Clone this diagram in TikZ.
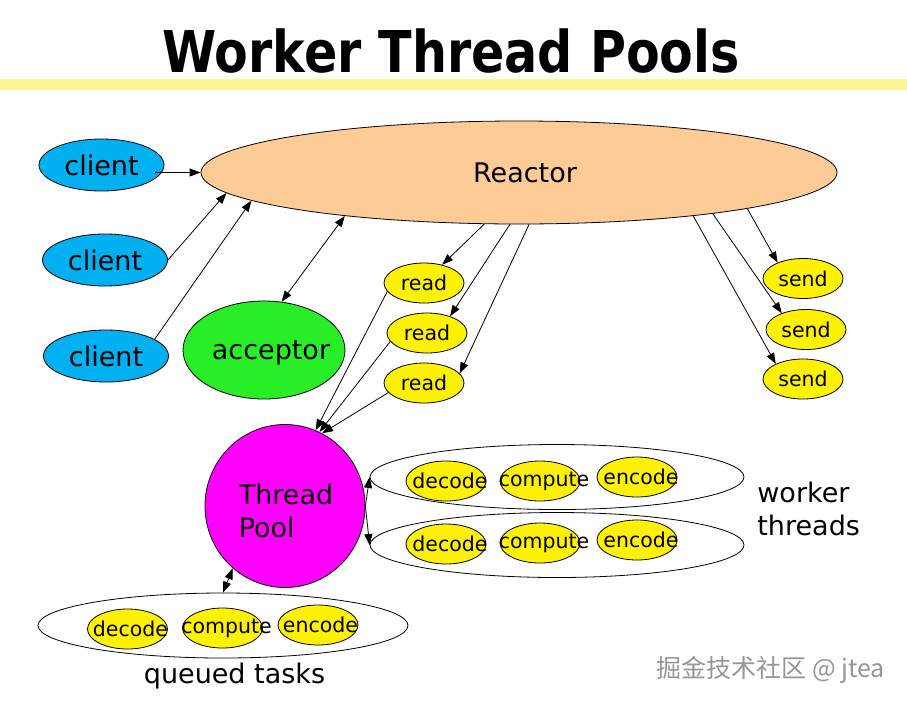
\documentclass[tikz,border=0pt]{standalone}
\usepackage{fontspec}
\setmainfont{DejaVu Sans}
\newfontfamily\cjkfont{Noto Sans CJK SC}
\usetikzlibrary{arrows.meta, shapes.geometric}
\definecolor{barfill}{RGB}{252,246,150}
\definecolor{reactorfill}{RGB}{252,203,150}
\definecolor{clientfill}{RGB}{0,176,240}
\definecolor{accfill}{RGB}{40,238,40}
\definecolor{poolfill}{RGB}{255,0,255}
\definecolor{markgray}{RGB}{150,150,150}
\newcommand{\bigfont}{\fontsize{27}{33}\selectfont}
\newcommand{\smallfont}{\fontsize{20.5}{24}\selectfont}
\newcommand{\lbl}[2][0pt]{\makebox[0pt]{\hspace*{#1}#2}}
\tikzset{
    blob/.style={ellipse, draw, inner sep=0pt, font=\bigfont},
    task/.style={ellipse, draw, fill=yellow, minimum width=80pt, minimum height=40pt, inner sep=0pt, font=\smallfont},
    group/.style={ellipse, draw, minimum width=374pt, minimum height=65pt, inner sep=0pt}
}

\begin{document}
\begin{tikzpicture}[x=1pt, y=-1pt, line width=0.8pt, >={Triangle[length=11pt, width=8pt]}]
                        \useasboundingbox (0,0) rectangle (907,705);
                        \fill[barfill] (0,79) rectangle (907,90);
                        \node[anchor=base, inner sep=0pt, font=\bfseries\fontsize{57.6}{60}\selectfont] (title) at (451,72) {\scalebox{0.853}[1]{Worker Thread Pools}};
                        \node[blob, fill=reactorfill, minimum width=636pt, minimum height=103pt] (r) at (519,172.5) {\lbl[12pt]{Reactor}};
                        \node[blob, fill=clientfill, minimum width=125pt, minimum height=52pt] (c1) at (101.5,165) {client};
                        \node[blob, fill=clientfill, minimum width=125pt, minimum height=52pt] (c2) at (105,260) {client};
                        \node[blob, fill=clientfill, minimum width=125pt, minimum height=52pt] (c3) at (106,356) {client};
                        \node[blob, fill=accfill, minimum width=162pt, minimum height=98pt] (acc) at (264,350) {\lbl[14pt]{\raisebox{-9pt}[0pt][0pt]{acceptor}}};
                        \node[task] (rd1) at (424,283) {read};
                        \node[task] (rd2) at (427,333) {read};
                        \node[task] (rd3) at (424,383) {read};
                        \node[task] (s1) at (803,278.5) {send};
                        \node[task] (s2) at (806,329.5) {send};
                        \node[task] (s3) at (803,379) {send};
                        \node[blob, fill=poolfill, minimum width=160pt, minimum height=163pt] (tp) at (285,506) {\lbl[2pt]{\raisebox{2pt}[0pt][0pt]{\begin{tabular}[t]{@{}l@{}}Thread\\Pool\end{tabular}}}};
                        \node[group] (w1) at (557,477) {};
                        \node[group] (w2) at (557,545) {};
                        \node[group, minimum width=370pt] (q) at (223,625.5) {};
                        \node[task] (d1) at (446,481) {\lbl[8pt]{decode}};
                        \node[task] (cp1) at (540,481) {\lbl[8pt]{compute}};
                        \node[task] (e1) at (637,477) {\lbl[8pt]{encode}};
                        \node[task] (d2) at (446,544) {\lbl[8pt]{decode}};
                        \node[task] (cp2) at (540,543) {\lbl[8pt]{compute}};
                        \node[task] (e2) at (637,540) {\lbl[8pt]{encode}};
                        \node[task] (d3) at (127.5,629) {\lbl[6pt]{decode}};
                        \node[task] (cp3) at (222.5,628) {\lbl[8pt]{compute}};
                        \node[task] (e3) at (318,625) {\lbl[5pt]{encode}};
                        \node[anchor=west, align=left, inner sep=0pt, font=\bigfont] (wt) at (757,509) {worker\\threads};
                        \node[anchor=base, inner sep=0pt, font=\bigfont] (qt) at (234.5,683) {queued tasks};
                        \node[anchor=base west, inner sep=0pt, text=markgray, font=\cjkfont\fontsize{25}{28}\selectfont] (mark) at (656,677) {掘金技术社区 @ jtea};
                        \draw
                        ([xshift=-9pt]c1.east |- r.west) edge[->] (r.west)
                        (c2.east) edge[->] (r.184)
                        (c3.19) edge[->] (r.186)
                        (acc.70) edge[<->] (r.194)
                        (r.236) edge[->] (rd1.45)
                        (r.260) edge[->] (rd2.36)
                        (r.281) edge[->] (rd3.15)
                        (r.351) edge[->] (s1.148)
                        (r.348) edge[->] (s2.146)
                        (r.346) edge[->] (s3.151)
                        (rd1.193) edge[->] (tp.68)
                        (rd2.193) edge[->] (tp.65)
                        (rd3.195) edge[->] (tp.63)
                        (tp.east) edge[->] (w1.west)
                        (tp.east) edge[->] (w2.west)
                        (q.north) edge[<->] (tp.230);
                    \end{tikzpicture}
\end{document}
